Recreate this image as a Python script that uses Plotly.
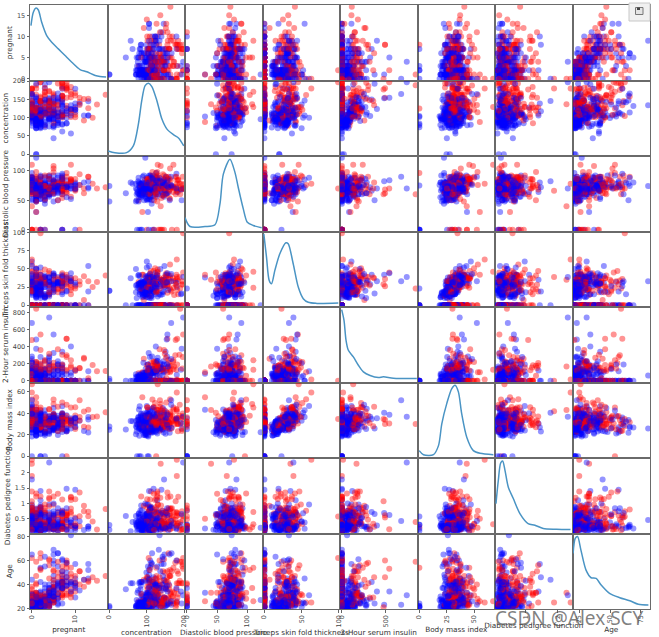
import plotly.graph_objects as go
from plotly.subplots import make_subplots

pregnant = [
6,1,8,1,0,5,3,10,2,8,4,10,10,1,5,7,0,7,1,1,
3,8,7,9,11,10,7,1,13,5,5,3,3,6,10,4,11,9,2,4,
3,7,7,9,7,0,1,2,7,7,1,1,5,8,7,1,7,0,0,0,
2,8,5,2,7,5,0,2,1,4,2,5,13,4,1,1,7,5,0,2,
3,2,7,0,5,2,13,2,15,1,1,4,7,4,2,6,2,1,6,1,
1,1,0,1,2,1,1,4,3,0,3,8,1,4,7,4,5,5,4,4,
0,6,2,5,0,1,3,1,1,0,4,9,3,8,2,2,0,0,0,5,
3,5,2,10,4,0,9,2,5,2,1,4,9,1,8,7,2,1,2,17,
4,7,0,2,0,6,3,4,4,3,6,6,2,1,2,8,6,0,5,5,
6,0,1,5,4,7,8,1,8,5,3,9,7,11,8,5,1,3,4,4,
0,1,0,2,6,5,8,5,1,7,2,0,7,0,9,12,5,6,5,5,
0,2,7,7,1,1,0,3,4,0,4,6,1,4,3,4,7,0,9,0,
0,9,0,2,
1,4,3,6,2,9,10,9,1,9,2,2,0,12,1,3,2,1,11,3,
3,4,3,4,5,0,2,0,2,10,2,3,1,13,2,7,0,5,2,0,
10,7,7,2,7,5,1,4,5,0,0,2,1,0,6,2,0,14,8,0,
2,5,5,3,2,10,0,0,2,6,0,2,3,7,2,3,3,3,6,4,
3,0,13,2,1,1,10,2,6,8,2,1,12,1,0,7,5,8,3,6,
1,1,1,5,1,1,2,4,0,0,2,2,4,4,3,6,5,2,7,6]
concentration = [
148,85,183,89,137,116,78,115,197,125,110,168,139,189,166,100,118,107,103,115,
126,99,196,119,143,125,147,97,145,117,109,158,88,92,122,103,138,102,90,111,
180,133,106,171,159,180,146,71,103,105,103,101,88,176,150,73,187,100,146,105,
84,133,44,141,114,99,109,109,95,146,100,139,126,129,79,0,62,95,131,112,
113,74,83,101,137,110,106,100,136,107,80,123,81,134,142,144,92,71,93,122,
163,151,125,81,85,126,96,144,83,95,171,155,89,76,160,146,124,78,97,99,
162,111,107,132,113,88,120,118,117,105,173,122,170,84,96,125,100,93,129,105,
128,106,108,108,154,102,57,106,147,90,136,114,156,153,188,152,99,109,88,163,
151,102,114,100,131,104,148,120,110,111,102,134,87,79,75,179,85,129,143,130,
87,119,0,73,141,194,181,128,109,139,111,123,159,135,85,158,105,107,109,148,
113,138,108,99,103,111,196,162,96,184,81,147,179,140,112,151,109,125,85,112,
177,158,119,142,100,87,101,162,197,117,142,134,79,122,74,171,181,179,164,104,
165,134,180,197,
91,91,139,119,146,184,122,124,111,106,129,90,86,92,113,111,114,193,155,191,
141,95,142,123,96,138,128,102,146,101,108,122,71,106,100,106,104,114,108,146,
129,133,161,108,136,155,119,96,108,78,107,128,128,161,151,146,126,100,112,167,
144,77,115,150,120,161,137,128,124,80,106,155,113,109,112,99,182,115,194,129,
112,124,152,112,157,122,179,102,105,118,87,180,106,95,165,117,115,126,129,114,
97,90,125,121,126,93,122,136,91,119,83,89,99,125,80,166,110,81,195,154]
blood_pressure = [
72,66,64,66,40,74,50,0,70,96,92,74,80,60,72,0,84,74,30,70,
88,84,90,80,94,70,76,66,82,92,75,76,58,92,78,60,76,76,68,72,
64,84,92,110,64,66,56,70,66,0,80,50,66,90,66,50,68,88,82,64,
0,72,62,58,66,74,88,92,66,85,66,64,90,86,75,48,78,72,0,66,
44,0,78,65,108,74,72,68,70,68,55,80,78,72,82,72,62,48,50,90,
72,60,96,72,65,56,122,58,58,85,72,62,76,62,54,92,74,48,60,76,
76,64,74,80,76,30,70,58,88,84,70,56,64,74,68,60,70,60,80,72,
78,82,52,66,62,75,80,64,78,70,74,65,86,82,78,88,52,56,74,72,
90,74,80,64,88,74,66,68,66,90,82,70,0,60,64,72,78,110,78,82,
80,64,74,60,74,68,68,98,76,80,62,70,66,0,55,84,58,62,64,60,
80,82,68,70,72,72,76,104,64,84,60,85,95,65,82,70,62,68,74,66,
60,90,0,60,66,78,76,52,70,80,86,80,80,68,68,72,84,90,84,76,
90,74,78,70,
64,70,54,50,76,85,68,70,86,52,84,80,68,62,64,56,68,50,76,68,
0,70,80,62,74,0,64,52,0,86,62,78,78,70,70,60,64,74,62,70,
76,88,86,80,74,84,86,56,72,88,62,78,48,50,62,70,84,78,72,0,
58,82,98,76,76,68,68,68,68,66,70,74,50,80,68,80,74,66,78,60,
74,70,90,75,72,64,70,86,70,72,58,0,80,60,76,86,76,74,92,88,
70,62,70,72,60,70,70,70,68,0,65,90,68,70,0,74,68,72,70,74]
skin_thickness = [
35,29,0,23,35,0,32,0,45,0,0,0,0,23,19,0,47,0,38,30,
41,0,0,35,33,26,0,15,19,0,26,36,11,0,31,33,0,37,42,47,
25,0,18,24,0,39,0,27,32,0,11,15,21,34,42,10,39,60,0,41,
0,0,0,34,0,27,30,0,13,27,20,35,0,20,30,20,0,33,0,22,
13,0,26,28,0,29,54,25,32,19,0,15,40,0,18,27,28,18,30,51,
0,0,0,18,0,29,0,28,31,25,33,26,34,0,32,0,0,0,23,15,
56,39,30,0,0,42,30,36,24,0,14,0,37,31,13,20,26,25,0,29,
0,30,26,0,31,23,37,35,0,17,50,0,28,42,0,44,15,21,19,41,
38,40,34,23,0,18,25,0,0,12,0,23,23,42,24,42,0,46,0,0,
0,18,20,0,0,28,36,41,39,35,0,44,0,0,20,41,0,13,44,27,
16,0,20,16,32,28,29,0,27,33,22,54,31,26,32,40,41,30,22,0,
29,0,0,33,15,27,0,38,39,31,0,37,25,0,28,0,21,27,21,0,
33,33,63,99,
24,32,0,22,35,15,0,33,19,0,0,14,32,7,35,39,22,16,28,15,
0,32,15,0,18,0,42,0,0,37,32,0,50,0,52,24,23,0,10,0,
28,15,0,0,26,44,39,17,43,29,30,37,45,0,31,38,29,25,0,0,
33,41,0,0,37,23,14,19,28,30,37,17,10,31,22,11,0,39,0,12,
30,20,33,32,21,32,0,36,32,19,16,0,0,18,43,30,0,38,49,0,
40,12,24,23,0,31,27,0,32,0,28,30,38,18,0,0,0,15,33,32]
insulin = [
0,0,0,94,168,0,88,0,543,0,0,0,0,846,175,0,230,0,83,96,
235,0,0,0,146,115,0,140,110,0,0,245,54,0,0,192,0,0,0,207,
70,0,0,240,0,0,0,0,0,0,82,36,23,300,342,0,304,110,0,142,
0,0,0,128,0,0,0,0,38,100,90,140,0,270,0,0,0,0,0,0,
0,0,71,0,0,125,0,71,110,0,0,176,48,0,64,228,0,76,64,220,
0,0,0,40,0,152,0,140,18,36,135,495,37,0,175,0,0,0,0,51,
100,0,100,0,0,99,135,94,145,0,168,0,225,0,49,140,50,92,0,325,
0,0,63,0,284,0,0,119,0,0,204,0,155,485,0,0,94,135,53,114,
0,105,285,0,0,156,0,0,0,78,0,130,0,48,55,130,0,130,0,0,
0,92,23,0,0,0,495,58,114,160,0,94,0,0,0,210,0,48,99,318,
0,0,0,44,190,0,280,0,87,0,0,0,0,130,175,271,129,120,0,0,
478,0,0,190,56,32,0,0,744,53,0,370,37,0,45,0,192,0,0,0,
680,60,14,0,
0,88,0,176,194,0,0,402,0,0,0,55,0,258,0,0,0,375,150,130,
0,0,0,0,67,0,0,0,0,0,56,0,45,0,57,0,116,0,278,0,
122,155,0,0,135,545,220,49,75,40,74,182,194,0,120,360,215,184,0,0,
135,42,0,0,105,132,148,180,205,0,148,96,85,0,94,64,0,140,0,231,
0,0,29,0,168,156,0,120,68,0,52,0,0,58,255,105,0,75,155,0,
0,43,110,112,0,0,0,0,210,0,66,0,0,122,0,0,0,76,145,193]
bmi = [
33.6,26.6,23.3,28.1,43.1,25.6,31,35.3,30.5,0,37.6,38,27.1,30.1,25.8,30,45.8,29.6,43.3,34.6,
39.3,35.4,39.8,29,36.6,31.1,39.4,23.2,22.2,34.1,36,31.6,24.8,19.9,27.6,24,33.2,32.9,38.2,37.1,
34,40.2,22.7,45.4,27.4,42,29.7,28,39.1,0,19.4,24.2,24.4,33.7,34.7,23,37.7,46.8,40.5,41.5,
0,32.9,25,25.4,32.8,29,32.5,42.7,19.6,28.9,32.9,28.6,43.4,35.1,32,24.7,32.6,37.7,43.2,25,
22.4,0,29.3,24.6,48.8,32.4,36.6,38.5,37.1,26.5,19.1,32,46.7,23.8,24.7,33.9,31.6,20.4,28.7,49.7,
39,26.1,22.5,26.6,39.6,28.7,22.4,29.5,34.3,37.4,33.3,34,31.2,34,30.5,31.2,34,33.7,28.2,23.2,
53.2,34.2,33.6,26.8,33.3,55,42.9,33.3,34.5,27.9,29.7,33.3,34.5,38.3,21.1,33.8,30.8,28.7,31.2,36.9,
21.1,39.5,32.5,32.4,32.8,0,32.8,30.5,33.7,27.3,37.4,21.9,34.3,40.6,47.9,50,24.6,25.2,29,40.9,
29.7,37.2,44.2,29.7,31.6,29.9,32.5,29.6,31.9,28.4,30.8,35.4,28.9,43.5,29.7,32.7,31.2,67.1,45,39.1,
23.2,34.9,27.7,26.8,27.6,35.9,30.1,32,27.9,31.6,22.6,33.1,30.4,52.3,24.4,39.4,24.3,22.9,34.8,30.9,
31,40.1,27.3,20.4,37.7,23.9,37.5,37.7,33.2,35.5,27.7,42.8,34.2,42.6,34.2,41.8,35.8,30,29,37.8,
34.6,31.6,25.2,28.8,23.6,34.6,35.7,37.2,36.7,45.2,44,46.2,25.4,35,29.7,43.6,35.9,44.1,30.8,18.4,
52.3,25.9,59.4,34.7,
29.2,33.1,25.6,27.1,38.2,30,31.2,35.4,30.1,31.2,28,24.4,35.8,27.6,33.6,30.1,28.7,25.9,33.3,30.9,
30,32.1,32.4,32,33.6,36.3,40,25.1,27.5,45.6,25.2,23,33.2,34.2,40.5,26.5,27.8,24.9,25.3,37.9,
35.9,32.4,30.4,27,26,38.7,45.6,20.8,36.1,36.9,36.6,43.3,40.5,21.9,35.5,28,30.7,36.6,23.6,32.3,
31.6,35.8,52.9,21,39.7,25.5,24.8,30.5,32.9,26.2,39.4,26.6,29.5,35.9,34.1,19.3,30.5,38.1,23.5,27.5,
31.6,27.4,26.8,35.7,25.6,35.1,35.1,45.5,30.8,23.1,32.7,43.3,23.6,23.9,47.9,39.1,31.2,25.9,36.4,27.8,
38.1,27.2,24.3,26.2,30.1,30.4,36.8,31.2,39.9,32.4,36.8,33.5,32.8,28.9,0,26.6,26,30.1,25.1,29.3]
pedigree = [
.627,.351,.672,.167,2.288,.201,.248,.134,.158,.232,.191,.537,1.441,.398,.587,.484,.551,.254,.183,.529,
.704,.388,.451,.263,.254,.205,.257,.487,.245,.337,.546,.851,.267,.188,.512,.966,.42,.665,.503,1.39,
.271,.696,.235,.721,.294,1.893,.564,.586,.344,.305,.491,.526,.142,.467,.718,.248,.254,.962,1.781,.173,
.304,.27,.587,.699,.258,.203,.855,.845,.334,.189,.867,.411,.583,.231,.396,.14,.391,.37,.27,.307,
.14,.102,.767,.237,.227,.698,.178,.324,.153,.165,.258,.443,.261,.277,.761,.255,.13,.323,.356,.325,
1.222,.179,.262,.283,.93,.801,.207,.287,.336,.247,.199,.543,.192,.391,.588,.539,.22,.654,.443,.223,
.759,.26,.404,.186,.278,.496,.452,.261,.403,.741,.361,1.114,.356,.457,.647,.088,.597,.532,.703,.159,
.268,.286,.318,.272,.237,.572,.096,1.4,.218,.085,.399,.432,1.189,.687,.137,.337,.637,.833,.229,.817,
.294,.204,.167,.368,.743,.722,.256,.709,.471,.495,.18,.542,.773,.678,.37,.719,.382,.319,.19,.956,
.084,.725,.299,.268,.244,.745,.615,1.321,.64,.361,.142,.374,.383,.578,.136,.395,.187,.678,.905,.15,
.874,.236,.787,.235,.324,.407,.605,.151,.289,.355,.29,.375,.164,.431,.26,.742,.514,.464,1.224,.261,
1.072,.805,.209,.687,.666,.101,.198,.652,2.329,.089,.645,.238,.583,.394,.293,.479,.586,.686,.831,.582,
.427,.46,2.42,.575,
.192,.446,.402,1.318,.329,1.213,.258,.282,.143,.38,.284,.249,.238,.926,.543,.557,.092,.655,1.353,.299,
.761,.612,.2,.226,.997,.933,1.101,.078,.24,1.136,.128,.254,.422,.251,.677,.296,.454,.744,.881,.334,
.28,.262,.165,.259,.647,.619,.808,.34,.263,.434,.757,1.224,.613,.254,.692,.337,.52,.412,.84,.839,
.422,.156,.209,.207,.215,.326,.143,1.391,.875,.313,.605,.433,.626,1.127,.315,.284,.345,.15,.129,.527,
.197,.254,.731,.148,.123,.692,.2,.127,.122,1.476,.166,.282,.137,.26,.259,.251,.343,.162,.968,.247,
.218,.58,.221,.245,.349,.315,.34,1.182,.381,.141,.629,.292,.145,1.144,.174,.304,.292,.547,.163,.839]
age = [
50,31,32,21,33,30,26,29,53,54,30,34,57,59,51,32,31,31,33,32,
27,50,41,29,51,41,43,22,57,38,60,28,22,28,45,33,35,46,27,56,
26,37,48,54,40,25,29,22,31,24,22,26,30,58,42,21,41,31,44,22,
21,39,36,24,42,32,38,54,25,27,28,26,42,23,22,22,41,27,26,24,
22,22,36,22,37,27,45,26,43,24,21,34,42,60,21,40,24,22,23,31,
33,22,21,24,27,21,27,37,25,24,24,46,23,25,39,61,38,25,22,21,
25,24,23,69,23,26,30,23,40,62,33,33,30,39,26,31,21,22,29,28,
55,38,22,42,23,21,41,34,65,22,24,37,42,23,43,36,21,23,22,47,
36,45,27,21,32,41,22,34,29,29,36,29,25,23,33,36,42,26,47,37,
32,23,21,27,40,41,60,33,31,25,21,40,36,40,42,29,21,23,26,29,
21,28,32,27,55,27,57,52,21,41,25,24,60,24,36,38,25,32,32,41,
21,66,37,61,26,22,26,24,31,24,22,46,22,29,23,26,51,23,32,27,
23,81,25,62,
21,22,22,33,29,49,41,34,23,42,27,24,25,44,21,30,25,24,51,34,
27,24,63,35,43,25,24,21,28,38,21,40,21,52,25,29,23,57,22,28,
39,37,47,52,51,34,29,26,33,21,25,31,24,65,28,29,24,46,58,30,
25,35,28,37,29,47,21,25,30,41,22,27,25,43,26,30,29,28,59,31,
25,36,43,21,24,30,37,23,37,46,25,41,44,22,26,42,44,39,32,66,
30,24,25,30,47,23,27,22,25,24,24,42,33,45,22,66,30,25,55,39]
outcome = [
1,0,1,0,1,0,1,0,1,1,0,1,0,1,1,1,1,1,0,1,
0,0,1,1,1,1,1,0,0,0,0,1,0,0,0,0,0,1,1,1,
0,0,0,1,0,1,0,0,1,0,0,0,0,1,0,0,1,0,0,0,
0,1,0,0,1,0,1,0,0,0,1,0,1,0,0,0,0,0,1,0,
0,0,0,0,1,0,0,0,1,0,0,0,0,1,0,0,0,0,0,1,
1,0,0,0,0,0,0,0,0,1,1,1,0,0,1,1,1,0,0,0,
1,0,0,0,1,1,0,0,1,1,1,1,1,0,0,0,0,0,0,0,
0,0,0,1,0,0,0,0,0,0,0,0,1,0,1,1,0,0,0,1,
0,0,0,0,1,1,0,0,0,0,1,1,0,0,0,1,0,1,0,1,
0,0,0,0,0,1,1,1,1,1,0,0,1,1,0,1,0,1,1,1,
0,0,0,0,0,0,1,1,0,1,0,0,0,1,1,1,1,0,1,1,
1,1,0,0,0,0,0,1,0,0,1,1,0,0,0,1,1,1,1,0,
0,0,1,1,
0,0,1,1,0,1,0,0,0,0,0,0,0,1,1,0,0,0,1,0,
1,0,0,1,0,1,0,0,1,1,0,0,0,0,0,1,0,0,0,1,
0,0,1,1,0,0,1,0,0,0,1,1,1,0,0,1,0,1,0,1,
1,0,1,0,0,1,0,1,1,0,0,1,0,1,0,0,1,0,1,0,
1,1,1,0,0,1,0,1,0,0,0,1,0,0,0,0,1,0,1,0,
0,0,0,0,1,0,0,1,0,1,0,0,0,1,0,0,0,0,1,0]

names = ["pregnant", "concentration", "Diastolic blood pressure", "Triceps skin fold thickness",
         "2-Hour serum insulin", "Body mass index", "Diabetes pedigree function", "Age"]
columns = [pregnant, concentration, blood_pressure, skin_thickness, insulin, bmi, pedigree, age]

xticks = [[0,10],[0,100,200],[0,50,100],[0,50,100],[0,500],[0,25,50],[1,2],[25,50,75]]
yticks = [[0,5,10,15],[0,50,100,150,200],[0,50,100],[0,25,50,75,100],[0,200,400,600,800],
          [0,20,40,60],[0.5,1.0,1.5,2.0],[20,40,60,80]]

# density curves: (value, share of panel height)
kde_x = [
 [-0.2,0.34,0.96,1.5,2.27,3.42,4.58,6.1,7.65,9.2,11.1,12.65,14.6,15.7,17.1],
 [-3.2,14.8,46,64,77.5,86.5,95.5,104.5,113.4,126.9,140.3,153.8,171.7,185.2,198.6],
 [-3.05,5.2,30,46.5,54.8,60.3,71.3,79.6,85,93.3,100,109.8,123.7],
 [-0.7,2.9,6.5,9.6,14.1,20.8,28.9,32,38.7,45.5,52.2,58.9,70.1,99.2],
 [-2,24.8,47.8,74.6,132,189.4,247,323.5,419,476.6,591.5,859.5],
 [-0.17,3.76,12.8,17.4,20.4,24.9,29.5,32.5,35.5,38.5,43.1,49.1,55.2,67.3],
 [.051,.125,.199,.262,.336,.44,.6,.81,1.07,1.285,1.55,1.97,2.414],
 [20,21.7,23.6,26.35,30.5,34.6,38.7,42.8,49.6,57.9,66.1,73,81.2],
]
kde_share = [
 [.727,.903,.96,.934,.771,.595,.507,.419,.33,.242,.145,.115,.066,.053,.048],
 [.067,.044,.044,.133,.422,.733,.933,.964,.92,.733,.489,.356,.28,.236,.133],
 [.184,.066,.066,.09,.37,.76,.957,.78,.583,.30,.122,.08,.05],
 [.969,.661,.352,.308,.485,.705,.85,.837,.573,.264,.11,.062,.048,.053],
 [.965,.824,.56,.427,.339,.229,.141,.093,.066,.075,.057,.053],
 [.098,.044,.044,.164,.453,.72,.92,.964,.876,.587,.276,.098,.062,.044],
 [.396,.705,.934,.96,.837,.617,.463,.264,.132,.11,.066,.057,.053],
 [.736,.934,.96,.78,.515,.414,.405,.317,.207,.15,.11,.062,.053],
]

W, H = 659, 637
L, R, T, B = 30, 9, 5, 28
PW, PH = W - L - R, H - T - B
n = len(columns)

def px(x): return (x - L) / PW
def py(y): return 1 - (y - T) / PH

def span(v):
    lo, hi = min(v), max(v)
    pad = (hi - lo) * 0.025
    return [lo - pad, hi + pad]

ranges = [span(c) for c in columns]
colors = ["rgba(255,0,0,0.42)" if o else "rgba(0,0,255,0.42)" for o in outcome]

fig = make_subplots(rows=n, cols=n, horizontal_spacing=0, vertical_spacing=0)
for r in range(n):
    for c in range(n):
        if r == c:
            lo, hi = ranges[r]
            fig.add_trace(go.Scatter(
                x=kde_x[r], y=[lo + s * (hi - lo) for s in kde_share[r]],
                mode="lines", line=dict(color="#4a94c4", width=1.5, shape="spline", smoothing=0.8),
                hoverinfo="skip"), row=r + 1, col=c + 1)
        else:
            fig.add_trace(go.Scatter(
                x=columns[c], y=columns[r], mode="markers",
                marker=dict(color=colors, size=6, line=dict(width=0)),
                hoverinfo="skip"), row=r + 1, col=c + 1)
        bottom, left = r == n - 1, c == 0
        fig.update_xaxes(
            range=ranges[c], showgrid=False, zeroline=False, showline=True, mirror=True,
            linecolor="#6a6a6a", linewidth=1,
            tickmode="array", tickvals=xticks[c] if bottom else [],
            ticks="outside" if bottom else "", ticklen=2.5, tickcolor="#666", tickangle=-90,
            tickfont=dict(family="DejaVu Sans", size=6.5, color="#444"),
            title=dict(text=names[c], standoff=4, font=dict(family="DejaVu Sans", size=7.3, color="#333")) if bottom else None,
            row=r + 1, col=c + 1)
        fig.update_yaxes(
            range=ranges[r], showgrid=False, zeroline=False, showline=True, mirror=True,
            linecolor="#6a6a6a", linewidth=1,
            tickmode="array", tickvals=yticks[r] if left else [],
            ticks="outside" if left else "", ticklen=2.5, tickcolor="#666",
            tickfont=dict(family="DejaVu Sans", size=6.5, color="#444"),
            title=dict(text=names[r], standoff=3, font=dict(family="DejaVu Sans", size=7.3, color="#333")) if left else None,
            row=r + 1, col=c + 1)

fig.add_annotation(text="CSDN @Alex SCY", xref="paper", yref="paper", x=px(569), y=py(618),
                   xanchor="center", yanchor="middle", showarrow=False,
                   font=dict(family="Noto Sans", size=19, color="rgba(80,80,80,0.72)"))
button = [
    dict(type="rect", xref="paper", yref="paper", x0=px(629), x1=px(650), y0=py(3), y1=py(21),
         fillcolor="#f0f0f0", line=dict(color="#c8c8c8", width=1)),
    dict(type="rect", xref="paper", yref="paper", x0=px(635.5), x1=px(643), y0=py(7.5), y1=py(14.5),
         fillcolor="#e4e4e4", line=dict(color="#777", width=1)),
    dict(type="rect", xref="paper", yref="paper", x0=px(637), x1=px(640), y0=py(7.5), y1=py(10),
         fillcolor="#444", line=dict(width=0)),
]
fig.update_layout(width=W, height=H, margin=dict(l=L, r=R, t=T, b=B, autoexpand=False), showlegend=False,
                  paper_bgcolor="white", plot_bgcolor="white", shapes=button)
fig.write_html("out.html", config={"displayModeBar": False},
               post_script="document.body.style.margin='0';")
